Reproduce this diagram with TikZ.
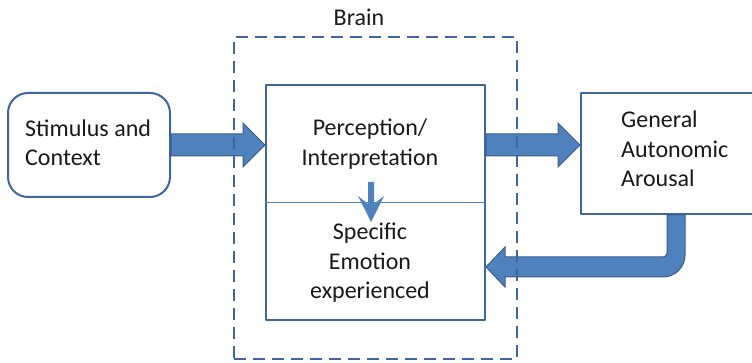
\documentclass[tikz,border=0pt]{standalone}
\usepackage{fontspec}
\setmainfont{Carlito}
\usetikzlibrary{arrows.meta,calc}

\definecolor{boxblue}{RGB}{62,102,160}
\definecolor{arrowfill}{RGB}{79,129,189}
\definecolor{arrowedge}{RGB}{56,93,138}

\tikzset{
  box/.style={draw=boxblue,line width=2pt,fill=white,inner sep=0pt},
  label/.style={inner sep=0pt,align=left,text=black!90,font=\fontsize{24}{29.5}\selectfont},
  bigarrow/.style={fill=arrowfill,draw=arrowedge,line width=1pt,line join=miter},
  smallarrow/.style={fill=arrowfill,draw=none},
  brainline/.style={draw=boxblue,line width=2pt,dash pattern=on 12pt off 7pt},
}

% straight block arrow, shaft 22pt, head 44pt wide
\newcommand{\hblock}[2]{%
  \filldraw[bigarrow] let \p1=(#1), \p2=(#2) in
    (\x1,\y1+11pt) -- (\x2-22pt,\y1+11pt) -- (\x2-22pt,\y1+22pt) -- (\x2,\y1)
    -- (\x2-22pt,\y1-22pt) -- (\x2-22pt,\y1-11pt) -- (\x1,\y1-11pt) -- cycle;}

\begin{document}
\begin{tikzpicture}[x=1pt,y=-1pt,line cap=butt,line join=round]
\useasboundingbox (0,0) rectangle (752,363);

% boxes
\node[box,rounded corners=20pt,minimum width=162pt,minimum height=104pt] (stim) at (89,145) {};
\node[label,anchor=west] (stimtext) at (25,143) {Stimulus and\\Context};

\node[box,minimum width=219pt,minimum height=235pt] (emo) at (375.5,202.5) {};
\draw[draw=arrowfill,line width=0.8pt] (emo.west) -- (emo.east);
\node[label,align=center] (perc) at (370,144) {Perception/\\Interpretation};
\node[label,align=center] (spec) at (370,263) {Specific\\Emotion\\experienced};
\coordinate (inner1) at ($(emo.center)+(-4.5,-20.5)$);
\coordinate (inner2) at ($(emo.center)+(-4.5,19.5)$);
\fill[smallarrow] let \p1=(inner1), \p2=(inner2) in
  (\x1-3pt,\y1) -- (\x1+3pt,\y1) -- (\x1+3pt,\y1-22pt) -- (\x1+13pt,\y1-14pt)
  -- (\x2,\y2) -- (\x1-13pt,\y1-14pt) -- (\x1-3pt,\y1-22pt) -- cycle;

\node[box,minimum width=181pt,minimum height=121pt] (arousal) at (671.5,153.5) {};
\node[label,anchor=west] (aroustext) at (621,149) {General\\Autonomic\\Arousal};

% block arrows
\coordinate (a2end) at (arousal.west |- stim.east);
\hblock{stim.east}{emo.west}
\hblock{emo.east |- stim.east}{a2end}

\coordinate (fbstart) at ($(arousal.south)+(4.5,0)$);
\coordinate (fbend) at ($(emo.east)+(0,64.5)$);
\filldraw[bigarrow] let \p1=(fbstart), \p2=(fbend) in
  (\x1-9pt,\y1) -- (\x1+9pt,\y1) -- (\x1+9pt,\y2+12pt)
  to[out=-90,in=0] (\x1-13pt,\y2-10pt) -- (\x2+19pt,\y2-10pt) -- (\x2+19pt,\y2-20pt)
  -- (\x2,\y2) -- (\x2+19pt,\y2+20pt) -- (\x2+19pt,\y2+10pt) -- (\x1-13pt,\y2+10pt)
  to[out=0,in=-90] (\x1-9pt,\y2+14pt) -- cycle;

% brain
\node[brainline,minimum width=283pt,minimum height=322pt,inner sep=0pt] (brain) at (375.5,198) {};
\node[label] (braintext) at (359,17) {Brain};
\end{tikzpicture}
\end{document}
